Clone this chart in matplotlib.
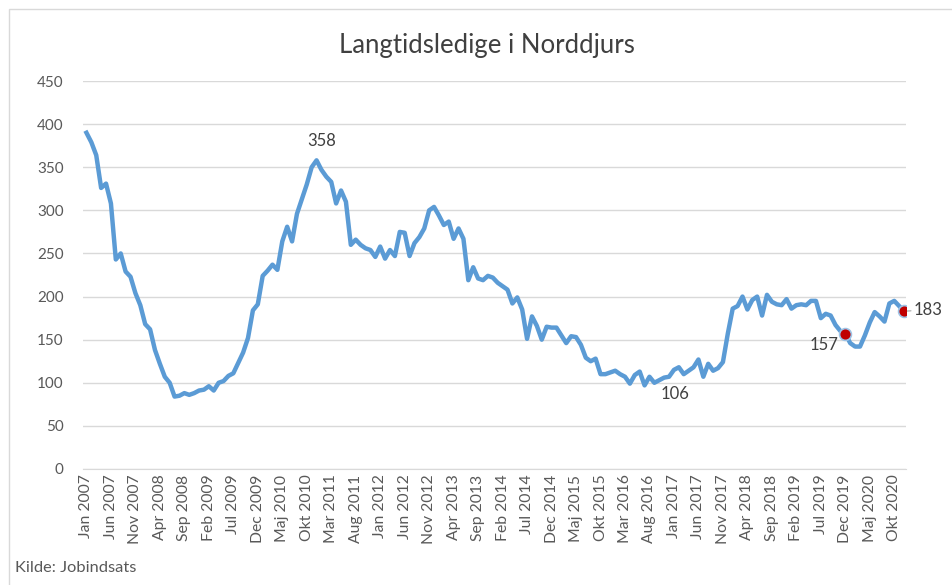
import matplotlib
matplotlib.use("Agg")
import matplotlib.pyplot as plt
from matplotlib.patches import Rectangle

plt.rcParams['font.family'] = ['Lato', 'DejaVu Sans']

# Langtidsledige i Norddjurs, monthly Jan 2007 - Dec 2020
months_da = ['Jan', 'Feb', 'Mar', 'Apr', 'Maj', 'Jun',
             'Jul', 'Aug', 'Sep', 'Okt', 'Nov', 'Dec']
start_year = 2007
values = [
    390, 379, 364, 326, 331, 308, 243, 250, 229, 223, 204, 190,   # 2007
    168, 162, 138, 122, 107, 100, 84, 85, 88, 86, 88, 91,         # 2008
    92, 96, 91, 100, 102, 108, 111, 123, 135, 152, 184, 191,      # 2009
    224, 230, 237, 231, 264, 281, 264, 296, 313, 330, 350, 358,   # 2010
    347, 339, 333, 308, 323, 310, 260, 266, 260, 256, 254, 246,   # 2011
    258, 244, 254, 247, 275, 274, 247, 262, 269, 279, 300, 304,   # 2012
    294, 283, 287, 267, 279, 267, 219, 234, 221, 219, 224, 222,   # 2013
    216, 212, 208, 192, 199, 185, 151, 177, 166, 150, 165, 164,   # 2014
    164, 155, 146, 154, 153, 144, 129, 125, 128, 110, 110, 112,   # 2015
    114, 110, 107, 99, 109, 113, 97, 107, 100, 103, 106, 107,     # 2016
    115, 118, 110, 114, 118, 127, 107, 122, 114, 117, 124, 157,   # 2017
    186, 189, 200, 185, 196, 200, 178, 202, 194, 191, 190, 197,   # 2018
    186, 190, 191, 190, 195, 195, 175, 180, 178, 167, 160, 157,   # 2019
    146, 142, 142, 155, 170, 182, 177, 171, 192, 195, 189, 183,   # 2020
]
labels = [f"{months_da[i % 12]} {start_year + i // 12}" for i in range(len(values))]

peak_idx = 47      # Dec 2010
low_idx = 118      # Nov 2016
mark_idx = [155, 167]   # Dec 2019, Dec 2020

fig = plt.figure(figsize=(9.52, 5.85), dpi=100)
ax = fig.add_axes([0.0872, 0.1983, 0.8645, 0.6632])

x = list(range(len(values)))
ax.plot(x, values, color='#5B9BD5', lw=3.2, solid_joinstyle='round', zorder=3)

# red highlight points
for i in mark_idx:
    ax.plot(i, values[i], 'o', ms=8.5, mfc='#C00000', mec='#9DC3E6', mew=1.2, zorder=4)

lab_kw = dict(textcoords='offset points', fontsize=12, color='#404040')
ax.annotate(str(values[peak_idx]), (peak_idx, values[peak_idx]), xytext=(4, 8),
            ha='center', va='bottom', **lab_kw)
ax.annotate(str(values[low_idx]), (low_idx, values[low_idx]), xytext=(8, -6),
            ha='center', va='top', **lab_kw)
ax.annotate(str(values[155]), (155, values[155]), xytext=(-15, -8),
            ha='center', va='center', **lab_kw)
ax.annotate(str(values[167]), (167, values[167]), xytext=(7, 1),
            ha='left', va='center',
            arrowprops=dict(arrowstyle='-', color='#A6A6A6', lw=0.8,
                            shrinkA=0, shrinkB=1), **lab_kw)

ax.set_ylim(0, 450)
ax.set_yticks(range(0, 451, 50))
ax.set_xlim(-0.7, len(values) - 0.6)
ax.set_xticks(x[::5])
ax.set_xticklabels(labels[::5], rotation=90)
ax.grid(axis='y', color='#D9D9D9', lw=1)
ax.set_axisbelow(True)
for s in ['top', 'right', 'left']:
    ax.spines[s].set_visible(False)
ax.spines['bottom'].set_color('#D9D9D9')
ax.tick_params(axis='both', length=0, colors='#595959')
ax.tick_params(axis='y', pad=14, labelsize=11)
ax.tick_params(axis='x', pad=4, labelsize=11.3)

fig.text(0.511, 0.923, 'Langtidsledige i Norddjurs', ha='center', va='center',
         fontsize=18.5, color='#404040')
fig.text(0.016, 0.029, 'Kilde: Jobindsats', ha='left', va='center',
         fontsize=11.8, color='#595959')

# chart border
fig.patches.append(Rectangle((9 / 952, -0.05), 1.1, 1 - 9 / 585 + 0.05,
                             transform=fig.transFigure, fill=False,
                             ec='#D9D9D9', lw=1))

fig.savefig('out.png', dpi=100)
